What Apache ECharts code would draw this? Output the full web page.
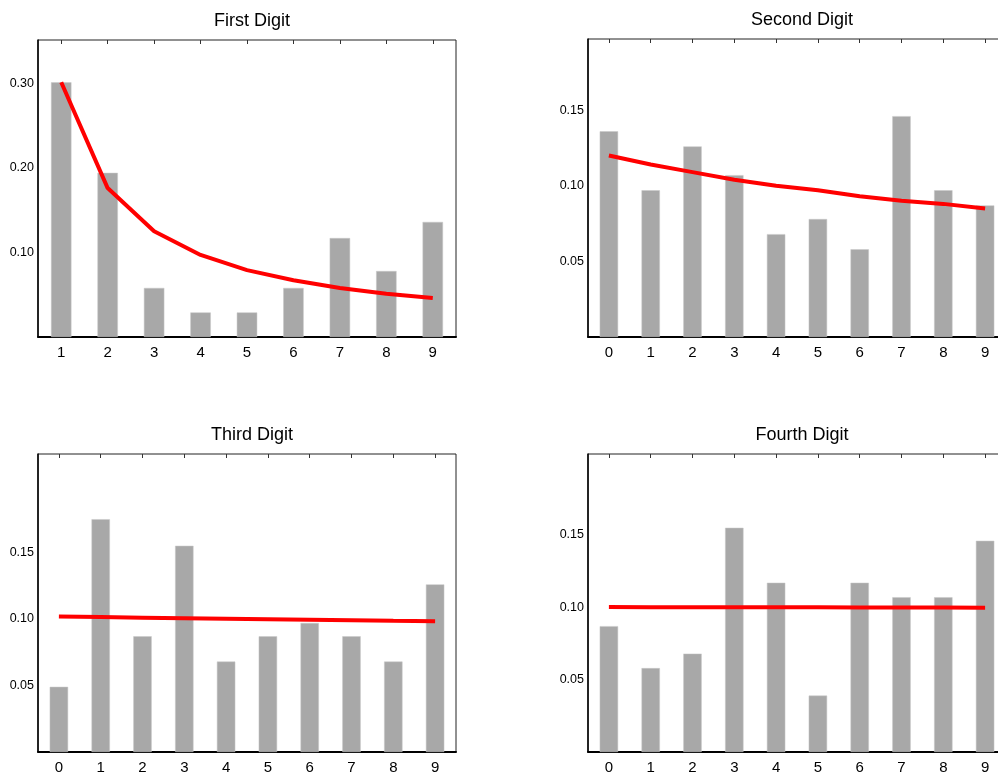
<!DOCTYPE html>
<html>
<head>
<meta charset="utf-8">
<title>Digit Distributions</title>
<script src="https://cdn.jsdelivr.net/npm/echarts@6/dist/echarts.min.js"></script>
<style>
    html, body { margin: 0; padding: 0; background: #fff; overflow: hidden; }
    #main { width: 1012px; height: 777px; }
</style>
</head>
<body>
<div id="main"></div>
<script>
// 数据
var firstDigits = ['1', '2', '3', '4', '5', '6', '7', '8', '9'];
var otherDigits = ['0', '1', '2', '3', '4', '5', '6', '7', '8', '9'];

var firstObserved = [0.301, 0.194, 0.058, 0.029, 0.029, 0.058, 0.117, 0.078, 0.136];
var firstExpected = [0.301, 0.176, 0.125, 0.097, 0.079, 0.067, 0.058, 0.051, 0.046];

var secondObserved = [0.136, 0.097, 0.126, 0.107, 0.068, 0.078, 0.058, 0.146, 0.097, 0.087];
var secondExpected = [0.120, 0.114, 0.109, 0.104, 0.100, 0.097, 0.093, 0.090, 0.088, 0.085];

var thirdObserved = [0.049, 0.175, 0.087, 0.155, 0.068, 0.087, 0.097, 0.087, 0.068, 0.126];
var thirdExpected = [0.1018, 0.1014, 0.1010, 0.1006, 0.1002, 0.0998, 0.0994, 0.0990, 0.0986, 0.0983];

var fourthObserved = [0.087, 0.058, 0.068, 0.155, 0.117, 0.039, 0.117, 0.107, 0.107, 0.146];
var fourthExpected = [0.1002, 0.1001, 0.1001, 0.1001, 0.1000, 0.1000, 0.0999, 0.0999, 0.0999, 0.0998];

// y 轴刻度标签
var firstTicks = ['0.10', '0.20', '0.30'];
var otherTicks = ['0.05', '0.10', '0.15'];

var panelTitles = ['First Digit', 'Second Digit', 'Third Digit', 'Fourth Digit'];
var yMax = [0.351, 0.197, 0.224, 0.206];
var yStep = [0.1, 0.05, 0.05, 0.05];

var FONT = 'Liberation Sans, Arial, sans-serif';

var panels = [
    { cats: firstDigits, obs: firstObserved, exp: firstExpected, ticks: firstTicks, left: 38, top: 40 },
    { cats: otherDigits, obs: secondObserved, exp: secondExpected, ticks: otherTicks, left: 588, top: 39 },
    { cats: otherDigits, obs: thirdObserved, exp: thirdExpected, ticks: otherTicks, left: 38, top: 454 },
    { cats: otherDigits, obs: fourthObserved, exp: fourthExpected, ticks: otherTicks, left: 588, top: 454 }
];

var option = {
    backgroundColor: '#fff',
    animation: false,
    title: [],
    grid: [],
    xAxis: [],
    yAxis: [],
    series: []
};

panels.forEach(function(p, i) {
    var h = (i === 0) ? 297 : 298;
    option.title.push({
        text: panelTitles[i],
        left: p.left + 209,
        top: p.top - 33,
        textAlign: 'center',
        textStyle: {
            fontFamily: FONT,
            fontSize: 18,
            fontWeight: 'normal',
            color: '#000'
        }
    });
    option.grid.push({
        left: p.left,
        top: p.top,
        width: 418,
        height: h,
        show: true,
        borderColor: '#222',
        borderWidth: 1,
        backgroundColor: 'transparent'
    });
    // 底部 x 轴
    option.xAxis.push({
        type: 'category',
        gridIndex: i,
        data: p.cats,
        boundaryGap: true,
        axisLine: { show: true, lineStyle: { color: '#000', width: 2 } },
        axisTick: { show: false },
        axisLabel: {
            color: '#000',
            fontFamily: FONT,
            fontSize: 15,
            margin: 8
        },
        splitLine: { show: false }
    });
    // 顶部刻度
    option.xAxis.push({
        type: 'category',
        gridIndex: i,
        position: 'top',
        data: p.cats,
        boundaryGap: true,
        axisLine: { show: false },
        axisTick: {
            show: true,
            inside: true,
            alignWithLabel: true,
            length: 4,
            lineStyle: { color: '#333', width: 1 }
        },
        axisLabel: { show: false },
        splitLine: { show: false }
    });
    option.yAxis.push({
        type: 'value',
        gridIndex: i,
        min: 0,
        max: yMax[i],
        interval: yStep[i],
        axisLine: { show: true, lineStyle: { color: '#000', width: 1.5 } },
        axisTick: { show: false },
        splitLine: { show: false },
        axisLabel: {
            color: '#000',
            fontFamily: FONT,
            fontSize: 12.5,
            margin: 4,
            formatter: function(v) {
                var s = v.toFixed(2);
                return p.ticks.indexOf(s) >= 0 ? s : '';
            }
        }
    });
    option.series.push({
        type: 'bar',
        xAxisIndex: i * 2,
        yAxisIndex: i,
        data: p.obs,
        barWidth: '44%',
        itemStyle: {
            color: '#a8a8a8',
            borderColor: '#c8c8c8',
            borderWidth: 0.5
        },
        z: 2
    });
    option.series.push({
        type: 'line',
        xAxisIndex: i * 2,
        yAxisIndex: i,
        data: p.exp,
        showSymbol: false,
        symbol: 'none',
        lineStyle: { color: '#ff0000', width: 4 },
        z: 3
    });
});

var myChart = echarts.init(document.getElementById('main'), null, { renderer: 'canvas' });
myChart.setOption(option);
</script>
</body>
</html>
